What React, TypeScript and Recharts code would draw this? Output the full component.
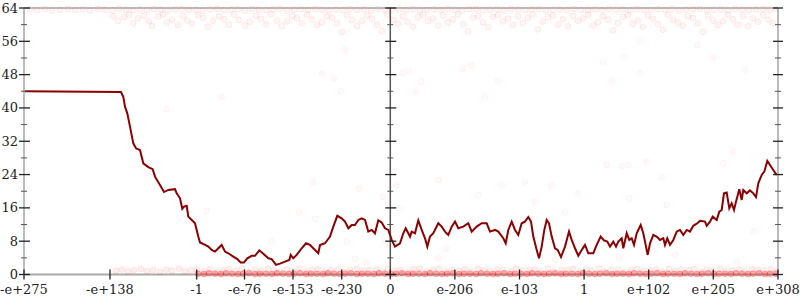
import React from 'react';
import { ComposedChart, Line, Scatter, XAxis, YAxis, ReferenceLine } from 'recharts';

// x positions of the custom (piecewise) float scale and their labels
const xTickPositions = [24, 110, 196.7, 244.5, 293, 341.7, 390.3, 454.9, 519.5, 584.1, 648.7, 713.3, 778];
const xTickLabels = ['-e+275', '-e+138', '-1', '-e-76', '-e-153', '-e-230', '0', 'e-206', 'e-103', '1', 'e+102', 'e+205', 'e+308'];
const yTicks = [0, 4, 8, 12, 16, 20, 24, 28, 32, 36, 40, 44, 48, 52, 56, 60, 64];
const yLabelStep = 8;
const zeroPosition = 390.3;

const lineSeries: [number, number][] = [
  [24, 44], [121, 43.8], [123.3, 42.7], [125, 40.3], [127.3, 38.7], [130, 35.5], [133.3, 31.5], [136, 30.3], [140, 29.9],
  [143.3, 26.7], [148.3, 25.8], [152.7, 25.3], [155, 23.5], [160, 21.5], [164, 19.8], [168.3, 20.3], [175, 20.5],
  [176.7, 19.5], [180, 18.3], [182.3, 15.8], [184, 16.3], [186.7, 16.5], [188.3, 13.9], [191.7, 13.1], [195, 12.3],
  [198.3, 9.1], [200, 7.7], [205, 7.1], [208.3, 6.7], [211.7, 5.9], [215, 5.5], [218.3, 6.3], [221.7, 7.1], [225, 5.5],
  [228.3, 5.1], [233.3, 4.3], [237.3, 3.7], [240.7, 2.9], [244, 2.9], [247.3, 3.9], [251.7, 4.5], [255, 4.5],
  [259.3, 5.8], [263.3, 5.0], [268.3, 3.9], [271.7, 3.7], [276, 2.3], [280, 2.6], [285, 3.1], [289.3, 3.5],
  [290.7, 4.7], [293.3, 3.9], [296.7, 4.7], [301.7, 6.3], [306, 7.5], [310, 7.1], [315, 5.9], [318.3, 5.1],
  [320, 7.1], [325, 7.5], [330, 9.1], [333.3, 11.5], [337.3, 14.1], [341.7, 13.5], [345, 12.7], [348.3, 11.1],
  [351.7, 11.9], [355, 11.9], [358.3, 13.1], [361.7, 13.5], [365, 13.1], [368.3, 10.3], [371.7, 10.7], [375, 9.9],
  [378.3, 13.0], [381.7, 12.5], [385, 11.1], [388.3, 10.7], [391.7, 8.3], [395, 6.7], [400, 7.5], [403.3, 9.9],
  [405.7, 11.1], [408.3, 9.9], [410, 9.1], [411.7, 10.3], [415, 9.9], [418.3, 13.0], [421.7, 10.7], [425, 8.7],
  [427.3, 6.7], [430, 9.1], [433.3, 9.9], [438.3, 12.3], [441.7, 11.5], [445, 10.3], [448.3, 9.5], [451.7, 11.5],
  [455, 12.7], [458.3, 11.1], [463.3, 11.5], [468.3, 12.3], [471.7, 10.3], [476.7, 11.5], [481.7, 12.3], [486.7, 12.3],
  [490, 10.3], [495, 10.7], [498.3, 10.3], [503.3, 8.7], [505.7, 7.5], [508.3, 10.7], [511.7, 12.7], [515, 10.7],
  [518.3, 9.5], [521.7, 12.3], [525, 12.7], [528.3, 13.8], [531, 12.7], [533.3, 9.1], [536.7, 5.9], [539, 3.9],
  [541.7, 6.7], [544.3, 10.7], [546.7, 13.1], [549, 12.3], [551.7, 9.1], [555, 6.3], [557.7, 5.9], [561, 4.2],
  [565, 6.7], [569, 10.3], [571.7, 8.3], [575, 6.3], [578.3, 4.5], [581.7, 5.9], [585, 7.1], [588.3, 5.1],
  [593.3, 5.1], [596.7, 7.1], [600.7, 9.1], [604, 8.2], [607.3, 7.9], [610, 6.7], [613.3, 7.9], [616, 6.7],
  [618.3, 7.9], [621.7, 8.7], [623.3, 6.3], [626.7, 9.9], [629.3, 8.3], [631.7, 8.7], [634, 7.1], [636.7, 9.9],
  [640.7, 11.9], [643.3, 9.9], [646, 6.7], [647.7, 4.7], [650, 7.5], [653.3, 9.5], [657.3, 9.0], [660, 8.3],
  [663.3, 8.7], [665, 7.1], [667.3, 8.7], [670, 7.1], [673.3, 8.3], [676.7, 10.3], [680, 10.7], [683.3, 9.5],
  [686.7, 10.7], [690, 10.3], [693.3, 11.7], [697.3, 12.3], [700, 12.9], [705, 12.7], [706.7, 11.7], [710, 12.7],
  [712.7, 13.9], [716.7, 13.1], [719.3, 15.1], [721.7, 15.5], [724, 19.5], [726.7, 19.7], [729.3, 15.9], [731.7, 17.1],
  [734, 15.5], [736, 17.5], [739.3, 20.5], [741.7, 17.9], [743.3, 20.3], [746.7, 19.5], [750, 20.2], [753.3, 19.5],
  [756, 18.6], [758.3, 21.9], [761.7, 23.9], [764.3, 24.7], [767.3, 27.3], [770, 26.3], [773.3, 25.1], [776, 24.1],
  [778, 24.1],
];

const topRow: [number, number][] = [
  [30, 63.7], [37, 63.5], [45, 63.8], [52, 63.4], [60, 63.6], [68, 63.8], [75, 63.5], [83, 63.7], [90, 63.4], [98, 63.8],
  [105, 63.6], [112, 63.5], [119, 63.8], [126, 63.6], [133, 63.4], [140, 63.7], [147, 63.5], [154, 63.8], [161, 63.6],
  [168, 63.4], [175, 63.7], [182, 63.8], [189, 63.5], [196, 63.6], [203, 63.4], [210, 63.7], [217, 63.8], [224, 63.5],
  [231, 63.6], [238, 63.7], [245, 63.4], [252, 63.8], [259, 63.6], [266, 63.5], [273, 63.7], [280, 63.8], [287, 63.4],
  [294, 63.6], [301, 63.7], [308, 63.5], [315, 63.8], [322, 63.6], [329, 63.4], [336, 63.7], [343, 63.5], [350, 63.8],
  [357, 63.6], [364, 63.7], [371, 63.4], [378, 63.8], [385, 63.5], [392, 63.6], [399, 63.7], [406, 63.5], [413, 63.8],
  [420, 63.4], [427, 63.6], [434, 63.7], [441, 63.5], [448, 63.8], [455, 63.6], [462, 63.4], [469, 63.7], [476, 63.8],
  [483, 63.5], [490, 63.6], [497, 63.7], [504, 63.4], [511, 63.8], [518, 63.6], [525, 63.5], [532, 63.7], [539, 63.8],
  [546, 63.4], [553, 63.6], [560, 63.7], [567, 63.5], [574, 63.8], [581, 63.6], [588, 63.4], [595, 63.7], [602, 63.5],
  [609, 63.8], [616, 63.6], [623, 63.7], [630, 63.4], [637, 63.8], [644, 63.5], [651, 63.6], [658, 63.7], [665, 63.5],
  [672, 63.8], [679, 63.4], [686, 63.6], [693, 63.7], [700, 63.8], [707, 63.5], [714, 63.6], [721, 63.7], [728, 63.4],
  [735, 63.8], [742, 63.6], [749, 63.5], [756, 63.7], [763, 63.8], [770, 63.6], [776, 63.7],
];

const topCloud: [number, number][] = [
  [113, 62.0], [118, 60.9], [124, 61.8], [129, 62.4], [133, 60.3], [138, 61.5], [144, 62.2], [149, 60.8], [152, 59.7],
  [158, 61.9], [163, 62.5], [167, 60.5], [172, 61.2], [178, 59.9], [183, 62.1], [187, 61.0], [192, 60.2], [198, 62.3],
  [203, 61.6], [208, 59.5], [213, 60.9], [219, 62.0], [224, 61.3], [229, 60.0], [234, 62.4], [239, 61.1], [245, 59.8],
  [250, 60.7], [256, 62.2], [261, 61.4], [266, 60.1], [271, 62.5], [277, 61.0], [282, 59.6], [287, 60.8], [292, 62.1],
  [297, 61.5], [302, 60.3], [307, 62.4], [312, 61.2], [317, 59.9], [322, 60.6], [327, 62.0], [332, 61.7], [337, 60.4],
  [342, 58.2], [347, 62.3], [352, 61.1], [357, 59.7], [362, 60.9], [367, 62.2], [372, 61.4], [377, 60.0], [382, 58.5],
  [387, 62.4], [393, 61.2], [398, 60.2], [403, 62.0], [408, 60.7], [413, 59.5], [418, 61.8], [423, 62.4], [428, 60.9],
  [433, 61.5], [438, 59.8], [443, 62.2], [448, 60.5], [453, 61.3], [458, 62.5], [463, 60.1], [468, 58.4], [473, 61.7],
  [478, 62.1], [483, 60.6], [488, 59.4], [493, 61.9], [498, 62.3], [503, 60.8], [508, 61.4], [513, 59.9], [518, 62.0],
  [523, 60.4], [528, 61.6], [533, 62.4], [538, 58.9], [543, 60.7], [548, 61.8], [553, 62.2], [558, 60.0], [563, 61.3],
  [568, 59.6], [573, 62.1], [578, 60.9], [583, 61.5], [588, 62.4], [593, 59.8], [598, 60.6], [603, 62.0], [608, 61.2],
  [613, 58.6], [618, 60.4], [623, 61.9], [628, 62.3], [633, 60.2], [638, 61.0], [643, 59.5], [648, 62.2], [653, 61.4],
  [658, 60.1], [663, 58.8], [668, 62.4], [673, 61.1], [678, 60.5], [683, 59.7], [688, 62.0], [693, 61.6], [698, 60.3],
  [703, 58.3], [708, 62.2], [713, 61.0], [718, 59.9], [723, 60.8], [728, 62.4], [733, 61.3], [738, 60.0], [743, 62.1],
  [748, 59.6], [753, 61.5], [758, 60.7], [763, 62.3], [768, 61.2], [773, 60.4],
];

const sparsePoints: [number, number][] = [
  [166.7, 39.7], [221.7, 42.7], [206.7, 15.3], [313, 22.1], [359, 20.6], [271.7, 7.9], [299, 14.9], [315, 13.4],
  [346.7, 7.9], [355, 3.8], [385, 7.6], [366.7, 2.9], [383, 18.7], [396.7, 21.5], [438.3, 22.7], [501.7, 21.5],
  [525, 22.3], [551.7, 21.3], [578.3, 19.5], [446.7, 6.3], [478.3, 19.1], [565, 14.9], [535, 17.5], [438.3, 3.9],
  [555, 3.5], [400, 15.9], [606.7, 26.3], [621.7, 26.1], [628.3, 26.3], [646.7, 27.1], [661.7, 23.4], [666.7, 16.7],
  [629.3, 18.3], [733.3, 29.5], [723.3, 26.7], [753.3, 10.3], [736.7, 3.1], [675, 4.7], [619.3, 3.9], [603, 51.1],
  [624, 52.2], [640, 48.4], [612, 46.5], [713, 52.2], [745, 49.1], [697.3, 55.1], [640, 55.9], [322, 48.2], [334, 47],
  [403, 48.4], [409, 48.9], [341, 44], [344.3, 53.9], [421, 46.3], [463.3, 49.5], [471.7, 50.3], [497.3, 46.5],
  [485, 42.7], [416, 43.9],
];

const bottomBand: [number, number][] = [
  [116, 0.9], [122, 1.2], [128, 0.7], [134, 1.0], [141, 1.3], [147, 0.8], [153, 1.1], [160, 0.6], [166, 1.2], [172, 0.9],
  [179, 1.4], [185, 0.7], [191, 1.0], [197, 1.2], [204, 0.8], [210, 1.3], [217, 0.6], [223, 1.0], [229, 1.2], [236, 0.9],
  [242, 1.4], [248, 0.7], [255, 1.1], [261, 0.8], [268, 1.3], [274, 1.0], [280, 0.6], [287, 1.2], [293, 0.9], [299, 1.4],
  [306, 0.7], [312, 1.1], [318, 1.3], [325, 0.8], [331, 1.0], [338, 1.2], [344, 0.6], [350, 1.1], [357, 1.4], [363, 0.8],
  [369, 1.0], [376, 1.2], [382, 0.7], [388, 1.3], [395, 0.9], [401, 1.1], [408, 0.6], [414, 1.2], [420, 1.4], [427, 0.8],
  [433, 1.0], [439, 1.3], [446, 0.7], [452, 1.1], [459, 0.9], [465, 1.2], [471, 0.6], [478, 1.4], [484, 1.0], [490, 0.8],
  [497, 1.2], [503, 1.1], [510, 0.7], [516, 1.3], [522, 0.9], [529, 1.0], [535, 1.2], [541, 0.6], [548, 1.4], [554, 0.8],
  [561, 1.1], [567, 1.0], [573, 1.3], [580, 0.7], [586, 1.2], [592, 0.9], [599, 1.4], [605, 0.8], [611, 1.0], [618, 1.2],
  [624, 0.6], [631, 1.1], [637, 1.3], [643, 0.9], [650, 1.0], [656, 1.2], [662, 0.7], [669, 1.4], [675, 0.8], [681, 1.1],
  [688, 1.0], [694, 1.3], [701, 0.6], [707, 1.2], [713, 0.9], [720, 1.4], [726, 0.8], [732, 1.0], [739, 1.2], [745, 0.7],
  [752, 1.3], [758, 1.1], [764, 0.9], [771, 1.2], [777, 0.8],
];

const zeroRow: [number, number][] = [
  [198, 0.2], [204, 0.1], [209, 0.3], [215, 0.2], [221, 0.1], [226, 0.3], [232, 0.2], [238, 0.1], [243, 0.2], [249, 0.3],
  [255, 0.1], [260, 0.2], [266, 0.2], [272, 0.1], [277, 0.3], [283, 0.2], [289, 0.1], [294, 0.2], [300, 0.3], [306, 0.1],
  [311, 0.2], [317, 0.2], [323, 0.1], [328, 0.3], [334, 0.2], [340, 0.1], [345, 0.2], [351, 0.3], [357, 0.1], [362, 0.2],
  [368, 0.2], [374, 0.1], [379, 0.3], [385, 0.2], [391, 0.1], [396, 0.2], [402, 0.3], [408, 0.1], [413, 0.2], [419, 0.2],
  [425, 0.1], [430, 0.3], [436, 0.2], [442, 0.1], [447, 0.2], [453, 0.3], [459, 0.1], [464, 0.2], [470, 0.2], [476, 0.1],
  [481, 0.3], [487, 0.2], [493, 0.1], [498, 0.2], [504, 0.3], [510, 0.1], [515, 0.2], [521, 0.2], [527, 0.1], [532, 0.3],
  [538, 0.2], [544, 0.1], [549, 0.2], [555, 0.3], [561, 0.1], [566, 0.2], [572, 0.2], [578, 0.1], [583, 0.3], [589, 0.2],
  [595, 0.1], [600, 0.2], [606, 0.3], [612, 0.1], [617, 0.2], [623, 0.2], [629, 0.1], [634, 0.3], [640, 0.2], [646, 0.1],
  [651, 0.2], [657, 0.3], [663, 0.1], [668, 0.2], [674, 0.2], [680, 0.1], [685, 0.3], [691, 0.2], [697, 0.1], [702, 0.2],
  [708, 0.3], [714, 0.1], [719, 0.2], [725, 0.2], [731, 0.1], [736, 0.3], [742, 0.2], [748, 0.1], [753, 0.2], [759, 0.3],
  [765, 0.1], [770, 0.2], [776, 0.2],
];

const toObjs = (arr: [number, number][]) => arr.map(([x, y]) => ({ x, y }));
const lineData = toObjs(lineSeries);
const topData = toObjs([...topRow, ...topCloud]);
const sparseData = toObjs(sparsePoints);
const bandData = toObjs(bottomBand);
const zeroData = toObjs(zeroRow);

const FONT = 'DejaVu Serif';
const PLOT_LEFT = 24;
const PLOT_RIGHT = 778;
const MID_X = 390.3;
const PLOT_BOTTOM = 274.5;

const YTick = (props: any) => {
  const { y, payload } = props;
  const v = payload.value;
  const major = v % yLabelStep === 0;
  if (major) {
    return (
      <g>
        <text x={18} y={y} textAnchor="end" dominantBaseline="central" fontFamily={FONT} fontSize={13} fill="#222">
          {v}
        </text>
        <line x1={PLOT_LEFT - 5} x2={PLOT_LEFT + 6} y1={y} y2={y} stroke="#222" strokeWidth={1.3} />
        <line x1={MID_X - 5} x2={MID_X + 6} y1={y} y2={y} stroke="#222" strokeWidth={1.3} />
        <line x1={PLOT_RIGHT - 5} x2={PLOT_RIGHT + 5} y1={y} y2={y} stroke="#222" strokeWidth={1.3} />
      </g>
    );
  }
  return (
    <g>
      <line x1={PLOT_LEFT - 3} x2={PLOT_LEFT + 3} y1={y} y2={y} stroke="#555" strokeWidth={1} />
      <line x1={MID_X - 3} x2={MID_X + 3} y1={y} y2={y} stroke="#555" strokeWidth={1} />
      <line x1={PLOT_RIGHT - 3} x2={PLOT_RIGHT + 3} y1={y} y2={y} stroke="#555" strokeWidth={1} />
    </g>
  );
};

const XTick = (props: any) => {
  const { x, payload } = props;
  const i = xTickPositions.indexOf(payload.value);
  return (
    <g>
      <line x1={x} x2={x} y1={PLOT_BOTTOM - 5} y2={PLOT_BOTTOM + 5} stroke="#222" strokeWidth={1.3} />
      <text x={x} y={294} textAnchor="middle" fontFamily={FONT} fontSize={13} fill="#222">
        {xTickLabels[i]}
      </text>
    </g>
  );
};

const makeDot = (fillOp: number, strokeOp: number) => (props: any) => (
  <circle cx={props.cx} cy={props.cy} r={3} fill="#ff0000" fillOpacity={fillOp} stroke="#ff0000" strokeOpacity={strokeOp} strokeWidth={1} />
);
const TopDot = makeDot(0.04, 0.07);
const SparseDot = makeDot(0.025, 0.045);
const BandDot = makeDot(0.06, 0.08);
const ZeroDot = makeDot(0.3, 0.2);

export default function App() {
  return (
    <div style={{ position: 'absolute', left: 0, top: 0, width: 800, height: 300, background: '#fff' }}>
      <ComposedChart width={800} height={300} margin={{ top: 8, right: 0, bottom: 0, left: 0 }}>
        <XAxis
          type="number"
          dataKey="x"
          domain={[PLOT_LEFT, PLOT_RIGHT]}
          ticks={xTickPositions}
          interval={0}
          allowDataOverflow
          height={25.5}
          axisLine={{ stroke: '#aaa', strokeWidth: 2 }}
          tickLine={false}
          tick={<XTick />}
        />
        <YAxis
          yAxisId="left"
          type="number"
          domain={[0, 64]}
          ticks={yTicks}
          interval={0}
          width={24}
          axisLine={{ stroke: '#bbb', strokeWidth: 2 }}
          tickLine={false}
          tick={<YTick />}
        />
        <YAxis
          yAxisId="right"
          orientation="right"
          type="number"
          domain={[0, 64]}
          width={22}
          axisLine={{ stroke: '#bbb', strokeWidth: 2 }}
          tickLine={false}
          tick={false}
        />
        <ReferenceLine yAxisId="left" y={64} stroke="#aaa" strokeWidth={1.3} />
        <ReferenceLine yAxisId="left" x={zeroPosition} stroke="#555" strokeWidth={1.5} />
        <Scatter yAxisId="left" data={topData} dataKey="y" shape={<TopDot />} isAnimationActive={false} />
        <Scatter yAxisId="left" data={sparseData} dataKey="y" shape={<SparseDot />} isAnimationActive={false} />
        <Scatter yAxisId="left" data={bandData} dataKey="y" shape={<BandDot />} isAnimationActive={false} />
        <Scatter yAxisId="left" data={zeroData} dataKey="y" shape={<ZeroDot />} isAnimationActive={false} />
        <Line
          yAxisId="left"
          data={lineData}
          dataKey="y"
          type="linear"
          stroke="#8b0000"
          strokeWidth={2}
          dot={false}
          activeDot={false}
          isAnimationActive={false}
        />
      </ComposedChart>
    </div>
  );
}
